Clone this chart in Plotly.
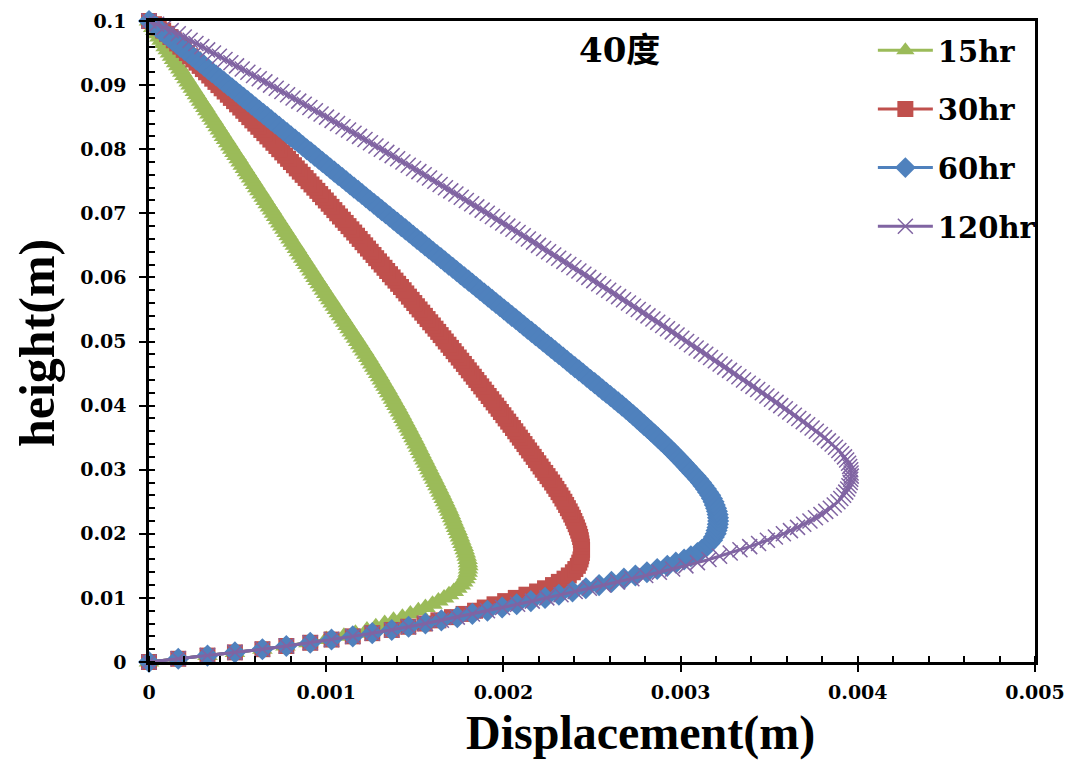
import plotly.graph_objects as go

# ---------------- data ----------------
height = [
    0.0, 0.0005, 0.001, 0.0015, 0.002, 0.0025, 0.003, 0.0035, 0.004, 0.0045,
    0.005, 0.0055, 0.006, 0.0065, 0.007, 0.0075, 0.008, 0.0085, 0.009, 0.0095,
    0.01, 0.0105, 0.011, 0.0115, 0.012, 0.0125, 0.013, 0.0135, 0.014, 0.0145,
    0.015, 0.0155, 0.016, 0.0165, 0.017, 0.0175, 0.018, 0.0185, 0.019, 0.0195,
    0.02, 0.0205, 0.021, 0.0215, 0.022, 0.0225, 0.023, 0.0235, 0.024, 0.0245,
    0.025, 0.0255, 0.026, 0.0265, 0.027, 0.0275, 0.028, 0.0285, 0.029, 0.0295,
    0.03, 0.0305, 0.031, 0.0315, 0.032, 0.0325, 0.033, 0.0335, 0.034, 0.0345,
    0.035, 0.0355, 0.036, 0.0365, 0.037, 0.0375, 0.038, 0.0385, 0.039, 0.0395,
    0.04, 0.0405, 0.041, 0.0415, 0.042, 0.0425, 0.043, 0.0435, 0.044, 0.0445,
    0.045, 0.0455, 0.046, 0.0465, 0.047, 0.0475, 0.048, 0.0485, 0.049, 0.0495,
    0.05, 0.0505, 0.051, 0.0515, 0.052, 0.0525, 0.053, 0.0535, 0.054, 0.0545,
    0.055, 0.0555, 0.056, 0.0565, 0.057, 0.0575, 0.058, 0.0585, 0.059, 0.0595,
    0.06, 0.0605, 0.061, 0.0615, 0.062, 0.0625, 0.063, 0.0635, 0.064, 0.0645,
    0.065, 0.0655, 0.066, 0.0665, 0.067, 0.0675, 0.068, 0.0685, 0.069, 0.0695,
    0.07, 0.0705, 0.071, 0.0715, 0.072, 0.0725, 0.073, 0.0735, 0.074, 0.0745,
    0.075, 0.0755, 0.076, 0.0765, 0.077, 0.0775, 0.078, 0.0785, 0.079, 0.0795,
    0.08, 0.0805, 0.081, 0.0815, 0.082, 0.0825, 0.083, 0.0835, 0.084, 0.0845,
    0.085, 0.0855, 0.086, 0.0865, 0.087, 0.0875, 0.088, 0.0885, 0.089, 0.0895,
    0.09, 0.0905, 0.091, 0.0915, 0.092, 0.0925, 0.093, 0.0935, 0.094, 0.0945,
    0.095, 0.0955, 0.096, 0.0965, 0.097, 0.0975, 0.098, 0.0985, 0.099, 0.0995,
    0.1,
]

disp_15hr = [
    0.0, 0.000165, 0.00033, 0.000485, 0.00064, 0.00077, 0.0009, 0.001, 0.0011, 0.001165,
    0.00123, 0.00128, 0.00133, 0.00138, 0.00143, 0.001475, 0.00152, 0.00156, 0.0016, 0.001633,
    0.001665, 0.001693, 0.00172, 0.00174, 0.00176, 0.001773, 0.001785, 0.001792, 0.001798, 0.0018,
    0.001802, 0.0018, 0.001798, 0.001793, 0.001788, 0.001782, 0.001776, 0.001769, 0.001762, 0.001755,
    0.001748, 0.001741, 0.001733, 0.001726, 0.001718, 0.001711, 0.001703, 0.001696, 0.001688, 0.00168,
    0.001671, 0.001663, 0.001654, 0.001646, 0.001637, 0.001628, 0.001619, 0.00161, 0.001601, 0.001592,
    0.001583, 0.001574, 0.001565, 0.001556, 0.001547, 0.001538, 0.001529, 0.00152, 0.001511, 0.001502,
    0.001493, 0.001484, 0.001474, 0.001465, 0.001455, 0.001446, 0.001436, 0.001427, 0.001417, 0.001407,
    0.001397, 0.001387, 0.001377, 0.001367, 0.001356, 0.001346, 0.001335, 0.001325, 0.001314, 0.001304,
    0.001293, 0.001282, 0.001271, 0.00126, 0.001249, 0.001238, 0.001226, 0.001215, 0.001203, 0.001192,
    0.00118, 0.001168, 0.001156, 0.001144, 0.001132, 0.00112, 0.001108, 0.001096, 0.001084, 0.001072,
    0.00106, 0.001048, 0.001036, 0.001024, 0.001012, 0.001, 0.000988, 0.000976, 0.000964, 0.000952,
    0.00094, 0.000929, 0.000917, 0.000905, 0.000893, 0.000882, 0.00087, 0.000858, 0.000846, 0.000835,
    0.000823, 0.000811, 0.000799, 0.000788, 0.000776, 0.000764, 0.000752, 0.000741, 0.000729, 0.000717,
    0.000705, 0.000694, 0.000682, 0.00067, 0.000658, 0.000647, 0.000635, 0.000623, 0.000611, 0.0006,
    0.000588, 0.000576, 0.000564, 0.000553, 0.000541, 0.000529, 0.000517, 0.000506, 0.000494, 0.000482,
    0.00047, 0.000459, 0.000447, 0.000435, 0.000423, 0.000412, 0.0004, 0.000388, 0.000376, 0.000365,
    0.000353, 0.000341, 0.000329, 0.000318, 0.000306, 0.000294, 0.000282, 0.000271, 0.000259, 0.000247,
    0.000235, 0.000224, 0.000212, 0.0002, 0.000188, 0.000177, 0.000165, 0.000153, 0.000141, 0.00013,
    0.000118, 0.000106, 0.000094, 0.000083, 0.000071, 0.000059, 0.000047, 0.000036, 0.000024, 0.000012,
    0.0,
]

disp_30hr = [
    0.0, 0.000165, 0.00033, 0.000485, 0.00064, 0.000775, 0.00091, 0.00103, 0.00115, 0.00126,
    0.00137, 0.001463, 0.001555, 0.001633, 0.00171, 0.001775, 0.00184, 0.001895, 0.00195, 0.00201,
    0.00207, 0.00213, 0.00219, 0.002235, 0.00228, 0.002313, 0.002345, 0.002369, 0.002392, 0.002406,
    0.00242, 0.002428, 0.002435, 0.002439, 0.002443, 0.002444, 0.002443, 0.00244, 0.002437, 0.002433,
    0.002428, 0.002422, 0.002415, 0.002408, 0.0024, 0.002392, 0.002383, 0.002374, 0.002364, 0.002354,
    0.002344, 0.002333, 0.002322, 0.002311, 0.002299, 0.002287, 0.002275, 0.002262, 0.002249, 0.002236,
    0.002222, 0.00221, 0.002197, 0.002184, 0.002171, 0.002158, 0.002145, 0.002132, 0.002119, 0.002106,
    0.002093, 0.00208, 0.002067, 0.002054, 0.00204, 0.002027, 0.002013, 0.002, 0.001986, 0.001973,
    0.001959, 0.001945, 0.001931, 0.001917, 0.001903, 0.001889, 0.001875, 0.001861, 0.001847, 0.001833,
    0.001819, 0.001805, 0.001791, 0.001777, 0.001762, 0.001748, 0.001733, 0.001719, 0.001704, 0.00169,
    0.001675, 0.001661, 0.001646, 0.001632, 0.001617, 0.001602, 0.001587, 0.001572, 0.001557, 0.001542,
    0.001527, 0.001512, 0.001497, 0.001482, 0.001467, 0.001452, 0.001437, 0.001422, 0.001406, 0.001391,
    0.001375, 0.00136, 0.001344, 0.001329, 0.001313, 0.001298, 0.001282, 0.001267, 0.001251, 0.001236,
    0.00122, 0.001205, 0.001189, 0.001174, 0.001158, 0.001142, 0.001126, 0.00111, 0.001094, 0.001078,
    0.001062, 0.001046, 0.00103, 0.001014, 0.000998, 0.000982, 0.000966, 0.00095, 0.000933, 0.000917,
    0.0009, 0.000884, 0.000867, 0.000851, 0.000834, 0.000818, 0.000801, 0.000785, 0.000768, 0.000752,
    0.000735, 0.000719, 0.000702, 0.000685, 0.000668, 0.000651, 0.000634, 0.000617, 0.0006, 0.000583,
    0.000566, 0.000549, 0.000532, 0.000515, 0.000497, 0.00048, 0.000462, 0.000445, 0.000427, 0.00041,
    0.000392, 0.000375, 0.000357, 0.00034, 0.000322, 0.000304, 0.000286, 0.000268, 0.00025, 0.000232,
    0.000214, 0.000196, 0.000177, 0.000159, 0.00014, 0.000121, 0.000102, 0.00008, 0.000055, 0.000028,
    0.0,
]

disp_60hr = [
    0.0, 0.000165, 0.00033, 0.000485, 0.00064, 0.000775, 0.00091, 0.00103, 0.00115, 0.00126,
    0.00137, 0.001465, 0.00156, 0.00165, 0.00174, 0.001825, 0.00191, 0.001993, 0.002075, 0.002155,
    0.002235, 0.002313, 0.00239, 0.002465, 0.00254, 0.00261, 0.00268, 0.002745, 0.00281, 0.002868,
    0.002925, 0.002973, 0.00302, 0.003058, 0.003095, 0.00312, 0.003145, 0.003162, 0.003178, 0.003188,
    0.003198, 0.003203, 0.003208, 0.00321, 0.003212, 0.003211, 0.003209, 0.003205, 0.0032, 0.003193,
    0.003186, 0.003177, 0.003167, 0.003155, 0.003143, 0.003129, 0.003115, 0.0031, 0.003084, 0.003067,
    0.00305, 0.003034, 0.003017, 0.003, 0.002983, 0.002965, 0.002947, 0.002929, 0.00291, 0.002891,
    0.002872, 0.002853, 0.002833, 0.002813, 0.002793, 0.002773, 0.002753, 0.002733, 0.002712, 0.002691,
    0.00267, 0.002648, 0.002626, 0.002604, 0.002581, 0.002559, 0.002537, 0.002515, 0.002492, 0.00247,
    0.002448, 0.002426, 0.002403, 0.002381, 0.002359, 0.002337, 0.002314, 0.002292, 0.00227, 0.002248,
    0.002225, 0.002203, 0.002181, 0.002159, 0.002136, 0.002114, 0.002092, 0.00207, 0.002047, 0.002025,
    0.002003, 0.001981, 0.001958, 0.001936, 0.001914, 0.001892, 0.001869, 0.001847, 0.001825, 0.001803,
    0.00178, 0.001758, 0.001736, 0.001714, 0.001691, 0.001669, 0.001647, 0.001625, 0.001602, 0.00158,
    0.001558, 0.001536, 0.001513, 0.001491, 0.001469, 0.001447, 0.001424, 0.001402, 0.00138, 0.001358,
    0.001335, 0.001313, 0.001291, 0.001269, 0.001246, 0.001224, 0.001202, 0.00118, 0.001157, 0.001135,
    0.001113, 0.001091, 0.001068, 0.001046, 0.001024, 0.001002, 0.000979, 0.000957, 0.000935, 0.000913,
    0.00089, 0.000868, 0.000846, 0.000824, 0.000801, 0.000779, 0.000757, 0.000735, 0.000712, 0.00069,
    0.000668, 0.000646, 0.000623, 0.000601, 0.000579, 0.000557, 0.000534, 0.000512, 0.00049, 0.000468,
    0.000445, 0.000423, 0.000401, 0.000379, 0.000356, 0.000334, 0.000312, 0.00029, 0.000267, 0.000245,
    0.000223, 0.000201, 0.000178, 0.000156, 0.000134, 0.000112, 0.000089, 0.000067, 0.000045, 0.000023,
    0.0,
]

disp_120hr = [
    0.0, 0.000165, 0.00033, 0.000485, 0.00064, 0.000775, 0.00091, 0.00103, 0.00115, 0.00126,
    0.00137, 0.001465, 0.00156, 0.00165, 0.00174, 0.001825, 0.00191, 0.001995, 0.00208, 0.002163,
    0.002245, 0.002325, 0.002405, 0.002485, 0.002565, 0.002645, 0.002725, 0.002803, 0.00288, 0.002955,
    0.00303, 0.003095, 0.00316, 0.00322, 0.00328, 0.003335, 0.00339, 0.00344, 0.00349, 0.003535,
    0.00358, 0.00362, 0.00366, 0.003695, 0.00373, 0.003761, 0.003792, 0.003819, 0.003845, 0.003867,
    0.003888, 0.003904, 0.00392, 0.003932, 0.003943, 0.00395, 0.003957, 0.00396, 0.003963, 0.003962,
    0.00396, 0.003954, 0.003948, 0.003937, 0.003925, 0.003909, 0.003893, 0.003874, 0.003855, 0.003834,
    0.003812, 0.003789, 0.003766, 0.003742, 0.003717, 0.003692, 0.003667, 0.003642, 0.003616, 0.003591,
    0.003565, 0.003539, 0.003513, 0.003487, 0.003461, 0.003435, 0.003408, 0.003382, 0.003355, 0.003329,
    0.003302, 0.003276, 0.003249, 0.003223, 0.003196, 0.003169, 0.003142, 0.003115, 0.003088, 0.003061,
    0.003034, 0.003007, 0.00298, 0.002953, 0.002926, 0.002899, 0.002871, 0.002844, 0.002816, 0.002789,
    0.002761, 0.002734, 0.002706, 0.002678, 0.00265, 0.002622, 0.002594, 0.002566, 0.002538, 0.00251,
    0.002482, 0.002454, 0.002426, 0.002398, 0.002369, 0.002341, 0.002312, 0.002284, 0.002255, 0.002227,
    0.002198, 0.00217, 0.002141, 0.002112, 0.002083, 0.002054, 0.002025, 0.001996, 0.001967, 0.001938,
    0.001909, 0.00188, 0.00185, 0.001821, 0.001791, 0.001762, 0.001732, 0.001703, 0.001673, 0.001643,
    0.001613, 0.001583, 0.001553, 0.001523, 0.001493, 0.001463, 0.001433, 0.001403, 0.001372, 0.001342,
    0.001311, 0.001281, 0.00125, 0.001219, 0.001188, 0.001157, 0.001126, 0.001095, 0.001064, 0.001033,
    0.001002, 0.000971, 0.000939, 0.000908, 0.000876, 0.000845, 0.000813, 0.000782, 0.00075, 0.000718,
    0.000686, 0.000654, 0.000622, 0.00059, 0.000558, 0.000526, 0.000494, 0.000462, 0.000429, 0.000397,
    0.000364, 0.000331, 0.000298, 0.000265, 0.000232, 0.000199, 0.000165, 0.000125, 0.000085, 0.000043,
    0.0,
]

series_names = ["15hr", "30hr", "60hr", "120hr"]
series_values = [disp_15hr, disp_30hr, disp_60hr, disp_120hr]

x_tick_vals = [0, 0.001, 0.002, 0.003, 0.004, 0.005]
x_tick_text = ["0", "0.001", "0.002", "0.003", "0.004", "0.005"]
y_tick_vals = [0, 0.01, 0.02, 0.03, 0.04, 0.05, 0.06, 0.07, 0.08, 0.09, 0.1]
y_tick_text = ["0", "0.01", "0.02", "0.03", "0.04", "0.05", "0.06", "0.07", "0.08", "0.09", "0.1"]

chart_title = "40度"
x_title = "Displacement(m)"
y_title = "height(m)"

for s in series_values:
    assert len(s) == len(height), len(s)

# ---------------- styling ----------------
colors = ["#9BBB59", "#C0504D", "#4F81BD", "#8064A2"]
symbols = ["triangle-up", "square", "diamond", "x-thin"]
sizes = [18, 16, 17, 15]
TITLE_FONT = "Liberation Serif, Times New Roman, serif"
TICK_FONT = "DejaVu Serif, Liberation Serif, serif"
CJK_FONT = "DejaVu Serif, Noto Sans CJK SC, sans-serif"

fig = go.Figure()
for name, xs, col, sym, sz in zip(series_names, series_values, colors, symbols, sizes):
    marker = dict(symbol=sym, size=sz, color=col)
    if sym == "x-thin":
        marker["line"] = dict(color=col, width=1.5)
    else:
        marker["line"] = dict(width=0)
    fig.add_trace(go.Scatter(
        x=xs, y=height, mode="lines+markers", name=name,
        legendgroup=name,
        line=dict(color=col, width=3),
        marker=marker,
        cliponaxis=False,
    ))

axis_common = dict(
    showline=True, linecolor="black", linewidth=2.5, mirror=True,
    showgrid=False, zeroline=False, automargin=False,
    ticks="outside", ticklen=7, tickwidth=2, tickcolor="black",
    tickfont=dict(family=TICK_FONT, size=19, color="black", weight="bold"),
)

fig.update_xaxes(
    range=[0, 0.005], tickmode="array", tickvals=x_tick_vals, ticktext=x_tick_text,
    minor=dict(ticks="inside", ticklen=6, tickwidth=1.5, tickcolor="black",
               tickmode="linear", tick0=0, dtick=0.0002, showgrid=False),
    ticklabelstandoff=4,
    **axis_common,
)
fig.update_yaxes(
    range=[0, 0.1], tickmode="array", tickvals=y_tick_vals, ticktext=y_tick_text,
    minor=dict(ticks="inside", ticklen=6, tickwidth=1.5, tickcolor="black",
               tickmode="linear", tick0=0, dtick=0.002, showgrid=False),
    ticklabelstandoff=9,
    **axis_common,
)

# axis titles and chart label
fig.add_annotation(
    text=x_title, xref="paper", yref="paper", x=0.555, y=-0.1108,
    xanchor="center", yanchor="middle", showarrow=False,
    font=dict(family=TITLE_FONT, size=48, color="black", weight="bold"),
)
fig.add_annotation(
    text=y_title, xref="paper", yref="paper", x=-0.1263, y=0.4977,
    xanchor="center", yanchor="middle", showarrow=False, textangle=-90,
    font=dict(family=TITLE_FONT, size=50, color="black", weight="bold"),
)
fig.add_annotation(
    text=chart_title, xref="paper", yref="paper", x=0.5316, y=0.955,
    xanchor="center", yanchor="middle", showarrow=False,
    font=dict(family=CJK_FONT, size=34, color="black", weight="bold"),
)

# the page adds an 8px body margin, so the figure is 8px smaller than the window
fig.update_layout(
    width=1075, height=752,
    margin=dict(l=141, r=48, t=13, b=98, autoexpand=False),
    paper_bgcolor="white", plot_bgcolor="white",
    showlegend=True,
    legend=dict(
        x=0.817, y=0.994, xanchor="left", yanchor="top",
        font=dict(family=TICK_FONT, size=29, color="black", weight="bold"),
        bgcolor="rgba(0,0,0,0)", borderwidth=0,
        tracegroupgap=18, itemwidth=55,
    ),
)

fig.write_html("out.html")
